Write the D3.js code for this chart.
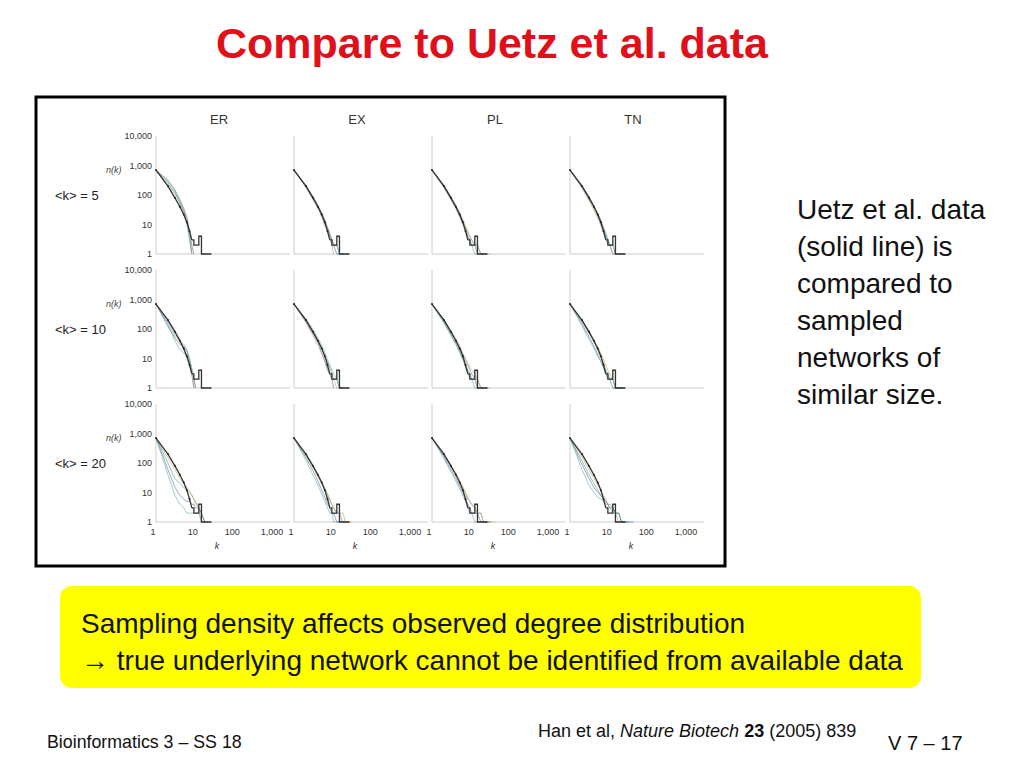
<!DOCTYPE html>
<html><head><meta charset="utf-8">
<script src="https://cdn.jsdelivr.net/npm/d3@7"></script>
<style>body{margin:0;background:#fff;font-family:"Liberation Sans",Arial,sans-serif}</style>
</head><body><svg id="slide" width="1024" height="768"></svg>
<script>
var models = ["ER", "EX", "PL", "TN"];
var rowLabels = ["<k> = 5", "<k> = 10", "<k> = 20"];
var yTicks = [1, 10, 100, 1000, 10000];
var xTicks = [1, 10, 100, 1000];
var kGrid = [1, 2, 3, 4, 5, 6, 7, 8, 9, 10, 12, 14, 17, 20, 25, 30, 40];
// Uetz et al. observed degree distribution (black line)
var uetz = [700, 200, 80, 40, 22, 12, 6, 3, 2, 2, 4, 1, 1, 1, 1];
// sampled networks, per model, per row (a few lines each)
var samplesER = [
  [[700, 260, 120, 60, 30, 12, 4, 1], [700, 300, 150, 70, 35, 18, 6, 2, 1], [700, 220, 110, 55, 30, 15, 5, 1], [700, 320, 140, 50, 25, 10, 3, 1]],
  [[700, 160, 60, 40, 30, 20, 8, 3, 1], [700, 120, 50, 30, 25, 18, 10, 4, 2, 1], [700, 200, 90, 45, 20, 10, 6, 3, 1], [700, 140, 40, 20, 15, 12, 8, 5, 2, 1]],
  [[700, 100, 30, 20, 15, 12, 10, 8, 6, 5, 3, 2, 1], [700, 60, 15, 8, 6, 5, 5, 4, 4, 3, 3, 2, 1], [700, 150, 60, 30, 20, 15, 12, 8, 6, 4, 3, 1], [700, 40, 8, 4, 3, 2, 2, 2, 2, 2, 2, 1, 1, 1]]
];
var samplesEX = [
  [[700, 190, 80, 40, 20, 10, 6, 4, 3, 2, 2, 1], [700, 210, 90, 45, 25, 14, 8, 5, 3, 2, 1, 1, 1], [700, 180, 70, 35, 18, 9, 6, 3, 2, 1], [700, 200, 85, 40, 22, 12, 7, 4, 3, 2, 2, 1, 1, 1]],
  [[700, 200, 85, 42, 22, 12, 8, 5, 3, 2, 2, 1, 1], [700, 180, 70, 35, 15, 8, 4, 3, 2, 1], [700, 160, 60, 28, 15, 8, 5, 3, 2, 2, 1, 1], [700, 220, 100, 50, 28, 16, 9, 6, 4, 3, 2, 1, 1, 1]],
  [[700, 190, 80, 40, 22, 14, 9, 6, 4, 3, 2, 2, 1, 1], [700, 150, 55, 25, 12, 7, 4, 3, 2, 2, 1, 1, 1, 1, 1], [700, 170, 70, 35, 20, 12, 8, 5, 4, 3, 2, 2, 2, 1, 1, 1], [700, 120, 40, 18, 9, 5, 3, 2, 2, 1, 1, 1]]
];
var samplesPL = [
  [[700, 200, 80, 40, 22, 12, 8, 5, 4, 3, 2, 2, 1, 1, 1], [700, 180, 70, 35, 18, 10, 6, 4, 3, 2, 2, 1, 1, 1], [700, 220, 90, 45, 25, 15, 9, 6, 4, 3, 2, 2, 1, 1, 1, 1], [700, 190, 75, 38, 20, 11, 7, 4, 3, 2, 1, 1]],
  [[700, 190, 80, 42, 24, 14, 9, 6, 4, 3, 2, 2, 1, 1, 1], [700, 170, 65, 32, 17, 10, 6, 4, 3, 2, 2, 1, 1, 1], [700, 210, 90, 48, 26, 15, 10, 7, 5, 4, 3, 2, 1, 1, 1, 1], [700, 160, 60, 30, 16, 9, 5, 3, 2, 2, 1, 1, 1]],
  [[700, 180, 75, 40, 22, 14, 9, 6, 5, 4, 3, 2, 2, 1, 1, 1], [700, 160, 60, 30, 16, 10, 6, 4, 3, 2, 2, 2, 1, 1, 1, 1], [700, 200, 85, 45, 25, 16, 10, 7, 5, 4, 3, 2, 2, 1, 1, 1, 1], [700, 140, 50, 24, 13, 8, 5, 3, 2, 2, 1, 1, 1, 1]]
];
var samplesTN = [
  [[700, 190, 80, 40, 20, 10, 6, 4, 3, 2, 2, 1, 1, 1], [700, 210, 90, 45, 24, 14, 8, 5, 3, 2, 1, 1], [700, 170, 65, 30, 16, 9, 5, 3, 2, 2, 1, 1, 1, 1, 1], [700, 200, 85, 42, 22, 12, 7, 4, 3, 2, 2, 1]],
  [[700, 180, 75, 38, 20, 11, 7, 4, 3, 2, 2, 1, 1, 1], [700, 150, 55, 26, 14, 8, 5, 3, 2, 2, 1, 1, 1, 1], [700, 200, 90, 45, 25, 15, 9, 6, 4, 3, 2, 1, 1, 1], [700, 130, 45, 22, 12, 8, 5, 4, 3, 2, 2, 1, 1, 1, 1]],
  [[700, 120, 40, 20, 12, 8, 6, 5, 4, 3, 3, 2, 2, 1, 1, 1], [700, 90, 30, 15, 10, 8, 6, 5, 4, 4, 3, 2, 2, 1, 1, 1, 1], [700, 160, 60, 30, 18, 12, 8, 6, 4, 3, 2, 2, 1, 1, 1], [700, 60, 18, 10, 7, 6, 5, 4, 4, 3, 3, 2, 2, 1, 1, 1]]
];
var samples = {ER: samplesER, EX: samplesEX, PL: samplesPL, TN: samplesTN};
var sampleColors = ["#4f9a84", "#5a6fa0", "#c9a06a", "#6aa9a8"];

var svg = d3.select("#slide");

svg.append("text").attr("x", 492).attr("y", 58).attr("text-anchor", "middle")
  .style("font-size", "43px").style("font-weight", "bold").style("fill", "#e0101a")
  .text("Compare to Uetz et al. data");

svg.append("rect").attr("x", 36).attr("y", 97).attr("width", 689).attr("height", 469)
  .attr("fill", "#fff").attr("stroke", "#000").attr("stroke-width", 3);

var colX0 = 153, colStep = 138, rowY0 = 136, rowStep = 134;

models.forEach(function(m, c) {
  svg.append("text").attr("x", colX0 + colStep * c + 66).attr("y", 124).attr("text-anchor", "middle")
    .style("font-size", "13px").style("fill", "#333").text(m);
});

rowLabels.forEach(function(lbl, r) {
  var top = rowY0 + rowStep * r;
  svg.append("text").attr("x", 55).attr("y", top + 64).style("font-size", "13px").style("fill", "#222").text(lbl);
  svg.append("text").attr("x", 106).attr("y", top + 37).style("font-size", "9px").style("font-style", "italic").style("fill", "#444").text("n(k)");

  models.forEach(function(m, c) {
    var x0 = colX0 + colStep * c;
    var x = d3.scaleLog().domain([1, 1000]).range([x0, x0 + 119]);
    var y = d3.scaleLog().domain([1, 10000]).range([top + 118, top]);
    var g = svg.append("g");

    g.append("line").attr("x1", x0 + 3).attr("x2", x0 + 3).attr("y1", top).attr("y2", top + 118).attr("stroke", "#ccc");
    g.append("line").attr("x1", x0 + 3).attr("x2", x0 + 137).attr("y1", top + 118).attr("y2", top + 118).attr("stroke", "#ccc");
    if (c == 0) {
      yTicks.forEach(function(t) {
        g.append("text").attr("x", x0 - 1).attr("y", y(t) + 3).attr("text-anchor", "end")
          .style("font-size", "9px").style("fill", "#333").text(d3.format(",")(t));
      });
    }
    if (r == 2) {
      xTicks.forEach(function(t) {
        g.append("text").attr("x", x(t)).attr("y", top + 131).attr("text-anchor", "middle")
          .style("font-size", "9px").style("fill", "#333").text(d3.format(",")(t));
      });
      g.append("text").attr("x", x0 + 64).attr("y", top + 145).attr("text-anchor", "middle")
        .style("font-size", "9px").style("font-style", "italic").style("fill", "#333").text("k");
    }

    var line = d3.line().x(function(d, i) { return x(kGrid[i]) + 3; }).y(function(d) { return y(d); });
    samples[m][r].forEach(function(s, i) {
      g.append("path").attr("d", line(s)).attr("fill", "none")
        .attr("stroke", sampleColors[i]).attr("stroke-width", 1).attr("opacity", 0.6);
    });
    g.append("path").attr("d", line(uetz.slice(0, 8)))
      .attr("fill", "none").attr("stroke", "#333").attr("stroke-width", 1.3);
    var tail = uetz.slice(7).map(function(v, i) { return [kGrid[i + 7], v]; });
    g.append("path").attr("d", d3.line().curve(d3.curveStepAfter)
        .x(function(d) { return x(d[0]) + 3; }).y(function(d) { return y(d[1]); })(tail))
      .attr("fill", "none").attr("stroke", "#333").attr("stroke-width", 1.3);
    g.selectAll("circle").data(uetz.slice(0, 7)).enter().append("circle")
      .attr("cx", function(d, i) { return x(kGrid[i]) + 3; }).attr("cy", function(d) { return y(d); })
      .attr("r", 1).attr("fill", "#222");
  });
});

var side = ["Uetz et al. data", "(solid line) is", "compared to", "sampled", "networks of", "similar size."];
side.forEach(function(t, i) {
  svg.append("text").attr("x", 797).attr("y", 219 + i * 37).style("font-size", "28px").style("fill", "#111").text(t);
});

svg.append("rect").attr("x", 60).attr("y", 586).attr("width", 861).attr("height", 102).attr("rx", 12)
  .attr("fill", "#ffff00");
svg.append("text").attr("x", 81).attr("y", 633).style("font-size", "28px").style("fill", "#111")
  .text("Sampling density affects observed degree distribution");
svg.append("text").attr("x", 81).attr("y", 670).style("font-size", "28px").style("fill", "#111")
  .text("\u2192 true underlying network cannot be identified from available data");

svg.append("text").attr("x", 47).attr("y", 748).style("font-size", "17.8px").style("fill", "#111").text("Bioinformatics 3 \u2013 SS 18");
var cite = svg.append("text").attr("x", 538).attr("y", 737).style("font-size", "18px").style("fill", "#111");
cite.append("tspan").text("Han et al,  ");
cite.append("tspan").style("font-style", "italic").text("Nature Biotech ");
cite.append("tspan").style("font-weight", "bold").text("23");
cite.append("tspan").text(" (2005) 839");
svg.append("text").attr("x", 888).attr("y", 750).style("font-size", "20px").style("fill", "#111").text("V 7 \u2013  17");
</script></body></html>
